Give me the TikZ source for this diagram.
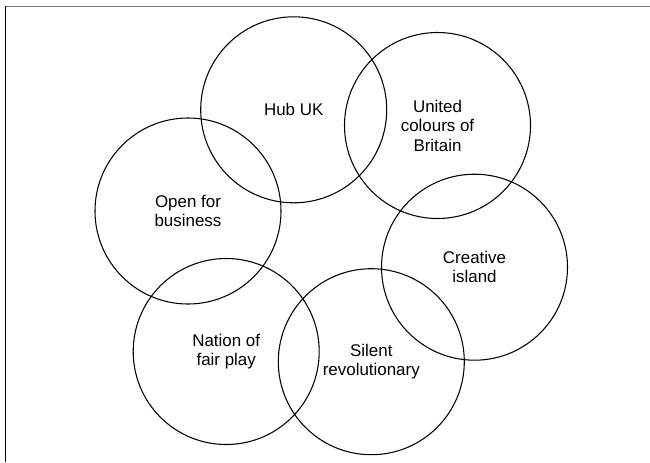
\documentclass[tikz,border=0pt]{standalone}
\usepackage{fontspec}
\setmainfont{Liberation Sans}

\begin{document}
\begin{tikzpicture}[x=0.75pt,y=-0.75pt,
    ring/.style = {circle,draw=black,line width=0.8pt,minimum size=139.5pt,inner sep=0pt,
                   align=center,font=\fontsize{12.7}{14.6}\selectfont},
    frame/.style = {line width=1.1pt}]
\useasboundingbox (0,0) rectangle (650,462);
\draw[frame,draw=black!52] (5,6.5) -- (650,6.5);
\draw[frame,draw=black] (5.3,6) -- (5.3,462);
\foreach \x/\y/\name/\txt in {293.7/109.8/hub/{Hub UK},
                               437.5/125.5/united/{United\\colours of\\Britain},
                               188/211/open/{Open for\\business},
                               474.5/267.2/creative/{Creative\\island},
                               226.2/351.5/nation/{Nation of\\fair play},
                               371.3/361.7/silent/{Silent\\revolutionary}}
    \node[ring] (\name) at (\x,\y) {\txt};
\end{tikzpicture}
\end{document}
